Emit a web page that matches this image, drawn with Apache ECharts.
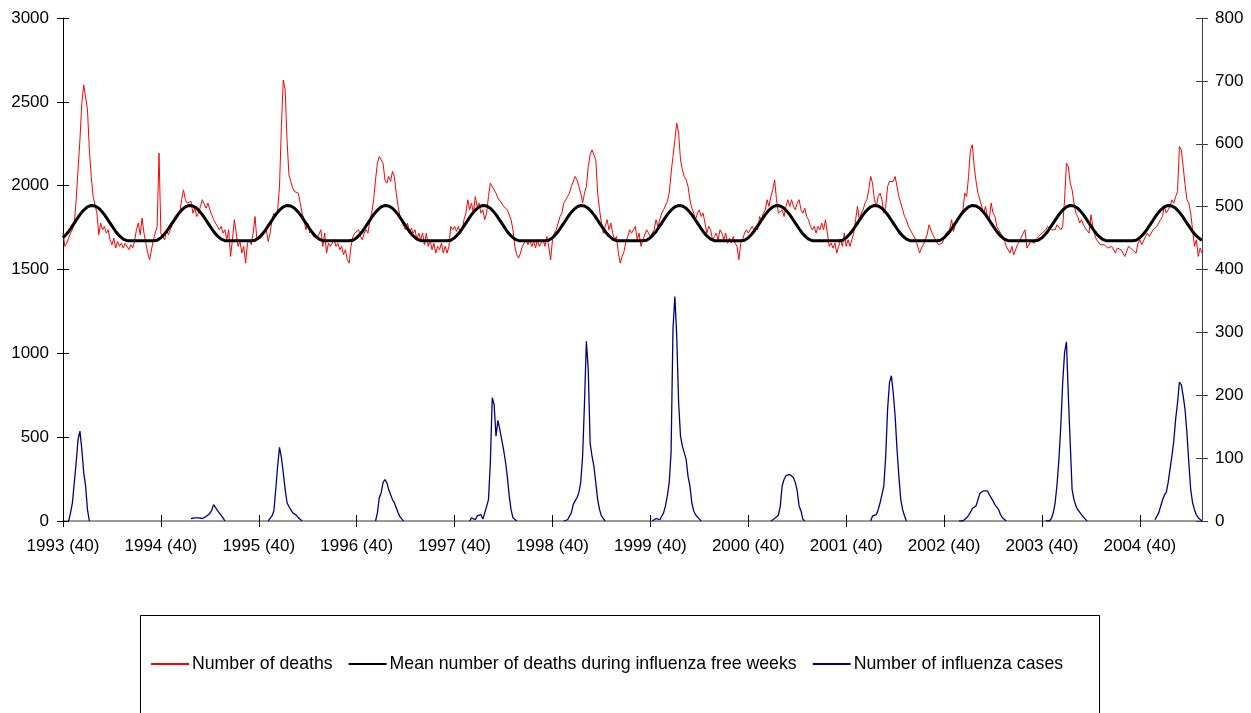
<!DOCTYPE html>
<html>
<head>
<meta charset="utf-8">
<script src="https://cdn.jsdelivr.net/npm/echarts@6/dist/echarts.min.js"></script>
<style>
html,body{margin:0;padding:0;background:#fff;}
#chart{width:1251px;height:713px;}
</style>
</head>
<body>
<div id="chart"></div>
<script>
// Weekly series, starting at week 40 of 1993 (52 weeks per season)
const startYear = 1993;
const startWeek = 40;

// Number of deaths (left axis), one array per season (week 40 .. week 39)
const deaths1993 = [1717,1638,1657,1687,1717,1737,1777,1916,2095,2274,2492,2601,2611,2452,2214,2055,1936,1886,1836,1707,1777,1737,1757,1717,1737,1677,1648,1687,1628,1667,1638,1657,1628,1657,1638,1618,1648,1628,1667,1737,1777,1707,1806,1717,1657,1598,1558,1548,1677,1717,1757,2194];
const deaths1994 = [1717,1707,1677,1737,1707,1737,1767,1757,1797,1816,1836,1916,1975,1916,1896,1886,1906,1836,1866,1816,1836,1876,1916,1906,1866,1896,1856,1826,1797,1806,1757,1737,1757,1717,1737,1677,1737,1578,1677,1797,1717,1638,1667,1598,1638,1538,1657,1677,1648,1717,1816,1677];
const deaths1995 = [1677,1687,1697,1717,1737,1667,1717,1797,1836,1816,1856,1995,2353,2630,2571,2273,2065,2025,1985,1965,1971,1955,1896,1836,1797,1737,1777,1717,1737,1697,1707,1687,1677,1737,1638,1717,1598,1657,1638,1648,1677,1638,1657,1618,1638,1588,1618,1558,1538,1638,1697,1717];
const deaths1996 = [1727,1737,1697,1677,1717,1737,1717,1797,1836,1916,2035,2134,2174,2184,2134,2035,2015,2055,2025,2085,2055,1955,1876,1816,1787,1757,1737,1777,1717,1747,1717,1737,1677,1717,1677,1717,1648,1717,1638,1677,1618,1657,1598,1638,1618,1657,1598,1638,1598,1638,1757,1737];
const deaths1997 = [1757,1727,1757,1717,1737,1797,1836,1916,1856,1896,1836,1935,1876,1896,1836,1856,1797,1836,1935,2015,2005,1975,1955,1926,1916,1896,1876,1866,1856,1826,1797,1737,1638,1588,1568,1598,1638,1628,1677,1648,1677,1638,1667,1628,1677,1638,1657,1677,1638,1697,1638,1558];
const deaths1998 = [1677,1717,1737,1777,1816,1836,1896,1916,1935,1955,1995,1995,2055,2035,1995,1955,1896,1955,1995,2114,2184,2214,2224,2154,1955,1856,1777,1717,1757,1797,1737,1777,1717,1677,1697,1598,1538,1578,1608,1667,1697,1737,1717,1737,1757,1677,1717,1638,1677,1707,1737,1717];
const deaths1999 = [1697,1717,1737,1797,1757,1797,1836,1856,1866,1906,1955,2075,2174,2273,2373,2313,2154,2095,2055,2035,1995,1916,1866,1836,1797,1836,1856,1816,1836,1826,1717,1757,1737,1677,1697,1717,1677,1737,1717,1677,1717,1657,1687,1657,1697,1657,1638,1558,1657,1677,1717,1737];
const deaths2000 = [1717,1727,1757,1737,1757,1737,1816,1797,1836,1856,1916,1876,1935,1975,2035,1916,1836,1836,1856,1816,1876,1916,1876,1916,1876,1856,1896,1916,1856,1836,1866,1816,1797,1757,1737,1757,1717,1757,1737,1777,1737,1797,1717,1638,1657,1628,1657,1598,1638,1677,1638,1717];
const deaths2001 = [1638,1677,1638,1677,1717,1797,1876,1797,1836,1856,1896,1916,1975,2055,2015,1916,1876,1935,1955,1916,1836,1876,1995,2025,2035,2025,2055,1995,1935,1896,1856,1816,1797,1757,1737,1717,1697,1677,1638,1598,1628,1648,1677,1707,1767,1737,1707,1687,1677,1648,1638,1657];
const deaths2002 = [1687,1717,1727,1737,1797,1727,1777,1797,1816,1826,1856,1955,1935,2055,2214,2244,2114,2025,1955,1916,1876,1836,1876,1816,1797,1896,1836,1816,1757,1737,1717,1697,1677,1638,1628,1598,1638,1588,1578,1648,1667,1677,1717,1737,1628,1618,1667,1677,1657,1677,1697,1707];
const deaths2003 = [1717,1717,1737,1757,1747,1737,1737,1737,1767,1777,1737,1757,1916,2134,2114,2015,1975,1896,1836,1816,1777,1797,1767,1747,1737,1717,1826,1757,1707,1677,1667,1648,1638,1648,1657,1628,1618,1638,1628,1598,1628,1638,1618,1608,1578,1588,1638,1628,1618,1608,1598,1657];
const deaths2004 = [1677,1648,1638,1697,1717,1697,1717,1737,1747,1757,1777,1797,1816,1876,1836,1856,1876,1916,1896,1935,1965,2234,2214,2114,2005,1916,1896,1836,1737,1638,1677,1578,1628,1598];

// Mean number of deaths during influenza free weeks (left axis)
const mean1993 = [1689,1700,1713,1727,1743,1760,1777,1794,1811,1827,1841,1854,1865,1873,1879,1882,1882,1879,1873,1865,1854,1841,1827,1811,1794,1777,1760,1743,1727,1713,1700,1689,1681,1675,1672,1672,1672,1672,1672,1672,1672,1672,1672,1672,1672,1672,1672,1672,1672,1672,1675,1681];
const mean1994 = [1689,1700,1713,1727,1743,1760,1777,1794,1811,1827,1841,1854,1865,1873,1879,1882,1882,1879,1873,1865,1854,1841,1827,1811,1794,1777,1760,1743,1727,1713,1700,1689,1681,1675,1672,1672,1672,1672,1672,1672,1672,1672,1672,1672,1672,1672,1672,1672,1672,1672,1675,1681];
const mean1995 = [1689,1700,1713,1727,1743,1760,1777,1794,1811,1827,1841,1854,1865,1873,1879,1882,1882,1879,1873,1865,1854,1841,1827,1811,1794,1777,1760,1743,1727,1713,1700,1689,1681,1675,1672,1672,1672,1672,1672,1672,1672,1672,1672,1672,1672,1672,1672,1672,1672,1672,1675,1681];
const mean1996 = [1689,1700,1713,1727,1743,1760,1777,1794,1811,1827,1841,1854,1865,1873,1879,1882,1882,1879,1873,1865,1854,1841,1827,1811,1794,1777,1760,1743,1727,1713,1700,1689,1681,1675,1672,1672,1672,1672,1672,1672,1672,1672,1672,1672,1672,1672,1672,1672,1672,1672,1675,1681];
const mean1997 = [1689,1700,1713,1727,1743,1760,1777,1794,1811,1827,1841,1854,1865,1873,1879,1882,1882,1879,1873,1865,1854,1841,1827,1811,1794,1777,1760,1743,1727,1713,1700,1689,1681,1675,1672,1672,1672,1672,1672,1672,1672,1672,1672,1672,1672,1672,1672,1672,1672,1672,1675,1681];
const mean1998 = [1689,1700,1713,1727,1743,1760,1777,1794,1811,1827,1841,1854,1865,1873,1879,1882,1882,1879,1873,1865,1854,1841,1827,1811,1794,1777,1760,1743,1727,1713,1700,1689,1681,1675,1672,1672,1672,1672,1672,1672,1672,1672,1672,1672,1672,1672,1672,1672,1672,1672,1675,1681];
const mean1999 = [1689,1700,1713,1727,1743,1760,1777,1794,1811,1827,1841,1854,1865,1873,1879,1882,1882,1879,1873,1865,1854,1841,1827,1811,1794,1777,1760,1743,1727,1713,1700,1689,1681,1675,1672,1672,1672,1672,1672,1672,1672,1672,1672,1672,1672,1672,1672,1672,1672,1672,1675,1681];
const mean2000 = [1689,1700,1713,1727,1743,1760,1777,1794,1811,1827,1841,1854,1865,1873,1879,1882,1882,1879,1873,1865,1854,1841,1827,1811,1794,1777,1760,1743,1727,1713,1700,1689,1681,1675,1672,1672,1672,1672,1672,1672,1672,1672,1672,1672,1672,1672,1672,1672,1672,1672,1675,1681];
const mean2001 = [1689,1700,1713,1727,1743,1760,1777,1794,1811,1827,1841,1854,1865,1873,1879,1882,1882,1879,1873,1865,1854,1841,1827,1811,1794,1777,1760,1743,1727,1713,1700,1689,1681,1675,1672,1672,1672,1672,1672,1672,1672,1672,1672,1672,1672,1672,1672,1672,1672,1672,1675,1681];
const mean2002 = [1689,1700,1713,1727,1743,1760,1777,1794,1811,1827,1841,1854,1865,1873,1879,1882,1882,1879,1873,1865,1854,1841,1827,1811,1794,1777,1760,1743,1727,1713,1700,1689,1681,1675,1672,1672,1672,1672,1672,1672,1672,1672,1672,1672,1672,1672,1672,1672,1672,1672,1675,1681];
const mean2003 = [1689,1700,1713,1727,1743,1760,1777,1794,1811,1827,1841,1854,1865,1873,1879,1882,1882,1879,1873,1865,1854,1841,1827,1811,1794,1777,1760,1743,1727,1713,1700,1689,1681,1675,1672,1672,1672,1672,1672,1672,1672,1672,1672,1672,1672,1672,1672,1672,1672,1672,1675,1681];
const mean2004 = [1689,1700,1713,1727,1743,1760,1777,1794,1811,1827,1841,1854,1865,1873,1879,1882,1882,1879,1873,1865,1854,1841,1827,1811,1794,1777,1760,1743,1727,1713,1700,1689,1681,1675];

// Number of influenza cases (right axis): reported weeks only, with the week offset where each season's reports start
const fluStart = [3, 68, 109, 166, 216, 266, 313, 376, 429, 476, 522, 580];
const flu1993 = [0,13,29,61,93,130,143,114,77,56,18,0];
const flu1994 = [4,2,5,2,5,2,4,5,7,9,12,17,26,23,17,13,9,5,0];
const flu1995 = [0,4,8,16,50,87,117,101,77,50,29,23,24,13,10,9,5,3,0];
const flu1996 = [0,13,37,45,61,66,61,50,42,34,29,21,13,7,3,0];
const flu1997 = [0,5,8,2,8,5,10,3,13,23,34,93,196,185,135,160,146,130,114,95,71,40,18,5,2,0];
const flu1998 = [0,0,2,5,13,26,32,37,45,61,103,188,286,240,124,103,87,61,34,18,8,4,0];
const flu1999 = [0,2,4,5,2,5,13,24,40,61,110,305,357,294,188,135,119,116,98,71,56,29,16,10,8,3,0];
const flu2000 = [0,3,4,5,9,24,56,66,72,69,74,76,69,61,48,24,16,3,0];
const flu2001 = [0,8,8,10,18,29,42,56,103,178,220,231,204,167,114,71,34,18,8,0];
const flu2002 = [0,0,0,2,5,9,14,20,20,24,34,44,46,48,51,48,42,40,32,26,24,18,10,5,2,0];
const flu2003 = [0,0,0,4,13,29,58,98,151,220,268,285,199,124,50,34,24,18,14,10,7,3,0];
const flu2004 = [2,4,13,23,33,41,45,61,82,103,127,162,188,221,217,199,177,140,93,50,29,18,10,5,2,0];

const seriesNames = ['Number of deaths', 'Mean number of deaths during influenza free weeks', 'Number of influenza cases'];

// ---- assemble ----
const deaths = [].concat(deaths1993, deaths1994, deaths1995, deaths1996, deaths1997, deaths1998,
  deaths1999, deaths2000, deaths2001, deaths2002, deaths2003, deaths2004);
const meanDeaths = [].concat(mean1993, mean1994, mean1995, mean1996, mean1997, mean1998,
  mean1999, mean2000, mean2001, mean2002, mean2003, mean2004);
const fluSeasons = [flu1993, flu1994, flu1995, flu1996, flu1997, flu1998, flu1999, flu2000, flu2001, flu2002, flu2003, flu2004];
const fluCases = deaths.map(() => null);
fluSeasons.forEach((vals, k) => { vals.forEach((v, j) => { fluCases[fluStart[k] + j] = v; }); });

const categories = deaths.map((_, i) => {
  let w = startWeek + i, y = startYear;
  while (w > 52) { w -= 52; y += 1; }
  return y + ' (' + w + ')';
});
const isYearStart = (idx) => idx % 52 === 0;
const plain = (v) => String(v);

const FONT = 'Liberation Sans, Arial, sans-serif';
const chart = echarts.init(document.getElementById('chart'), null, {renderer: 'canvas'});
const baseCat = {type: 'category', data: categories, boundaryGap: false, gridIndex: 0};
chart.setOption({
  animation: false,
  backgroundColor: '#fff',
  grid: {left: 63, right: 49, top: 18, bottom: 192, containLabel: false},
  legend: {
    show: true,
    orient: 'horizontal',
    data: seriesNames,
    left: 150, top: 655, padding: 0,
    itemWidth: 38, itemHeight: 14, itemGap: 15,
    itemStyle: {color: 'transparent', borderWidth: 0, opacity: 0},
    textStyle: {fontFamily: FONT, fontSize: 17.7, color: '#000', padding: [0, 0, 0, -2]}
  },
  graphic: [{
    type: 'rect', silent: true, z: -1,
    shape: {x: 140.5, y: 615.5, width: 959, height: 140},
    style: {fill: 'none', stroke: '#000', lineWidth: 1}
  }],
  xAxis: [
    Object.assign({}, baseCat, {
      position: 'bottom',
      axisLine: {show: true, lineStyle: {color: '#000', width: 1}},
      axisTick: {show: true, inside: false, length: 6, interval: isYearStart, lineStyle: {color: '#000'}},
      axisLabel: {show: true, interval: isYearStart, margin: 17, fontFamily: FONT, fontSize: 17, color: '#000'},
      splitLine: {show: false}
    }),
    Object.assign({}, baseCat, {
      position: 'bottom',
      axisLine: {show: false},
      axisTick: {show: true, inside: true, length: 6, interval: isYearStart, lineStyle: {color: '#000'}},
      axisLabel: {show: false},
      splitLine: {show: false}
    }),
    Object.assign({}, baseCat, {
      position: 'top',
      axisLine: {show: true, lineStyle: {color: '#999', width: 2}},
      axisTick: {show: false},
      axisLabel: {show: false},
      splitLine: {show: false}
    })
  ],
  yAxis: [
    {
      type: 'value', position: 'left', min: 0, max: 3000, interval: 500,
      axisLine: {show: true, lineStyle: {color: '#000'}},
      axisTick: {show: true, inside: false, length: 6, lineStyle: {color: '#000'}},
      axisLabel: {margin: 14, fontFamily: FONT, fontSize: 17, color: '#000', formatter: plain},
      splitLine: {show: false}
    },
    {
      type: 'value', position: 'right', min: 0, max: 800, interval: 100,
      axisLine: {show: true, lineStyle: {color: '#404040'}},
      axisTick: {show: true, inside: false, length: 6, lineStyle: {color: '#404040'}},
      axisLabel: {margin: 13, fontFamily: FONT, fontSize: 17, color: '#000', formatter: plain},
      splitLine: {show: false}
    },
    {
      type: 'value', position: 'left', min: 0, max: 3000, interval: 500,
      axisLine: {show: false},
      axisTick: {show: true, inside: true, length: 6, lineStyle: {color: '#000'}},
      axisLabel: {show: false},
      splitLine: {show: false}
    },
    {
      type: 'value', position: 'right', min: 0, max: 800, interval: 100,
      axisLine: {show: false},
      axisTick: {show: true, inside: true, length: 6, lineStyle: {color: '#404040'}},
      axisLabel: {show: false},
      splitLine: {show: false}
    }
  ],
  series: [
    {
      name: seriesNames[0], type: 'line', xAxisIndex: 0, yAxisIndex: 0,
      data: deaths, symbol: 'none', showSymbol: false,
      lineStyle: {color: '#ff0000', width: 1}, itemStyle: {color: '#ff0000'}, z: 2
    },
    {
      name: seriesNames[1], type: 'line', xAxisIndex: 0, yAxisIndex: 0,
      data: meanDeaths, symbol: 'none', showSymbol: false,
      lineStyle: {color: '#000000', width: 3}, itemStyle: {color: '#000000'}, z: 3
    },
    {
      name: seriesNames[2], type: 'line', xAxisIndex: 0, yAxisIndex: 1,
      data: fluCases, symbol: 'none', showSymbol: false, connectNulls: false,
      lineStyle: {color: '#000080', width: 1.3}, itemStyle: {color: '#000080'}, z: 4
    }
  ]
});
</script>
</body>
</html>
